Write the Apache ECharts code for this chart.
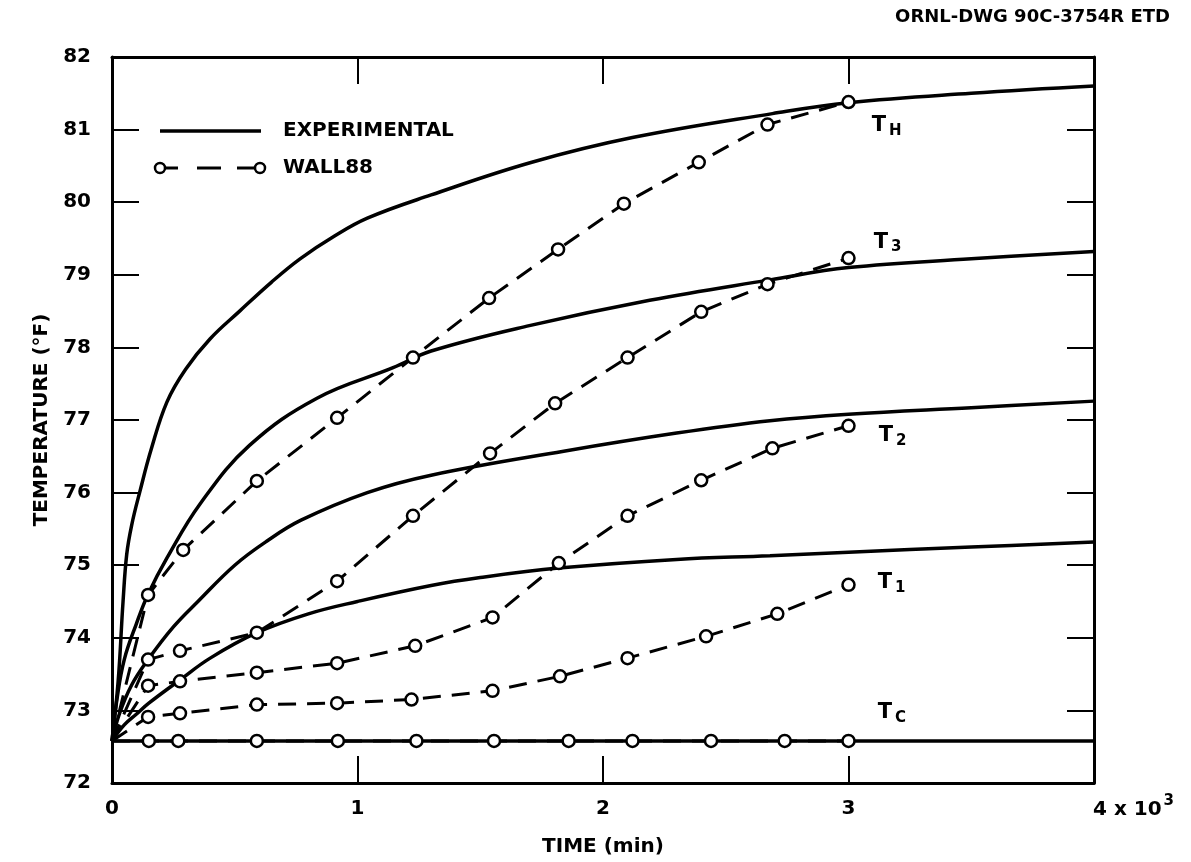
<!DOCTYPE html>
<html>
<head>
<meta charset="utf-8">
<script src="https://cdn.jsdelivr.net/npm/echarts@6.0.0/dist/echarts.min.js"></script>
<style>
  html, body { margin: 0; padding: 0; background: #fff; }
  #chart { width: 1191px; height: 862px; }
</style>
</head>
<body>
<div id="chart"></div>
<script>
// Axis ticks
const timeTicks = [0, 1, 2, 3, 4];          // x 10^3 min
const tempTicks = [72, 73, 74, 75, 76, 77, 78, 79, 80, 81, 82];

// Common starting temperature of every curve (°F)
const startTemp = 72.58;

// Measured (experimental) temperature histories, [time (10^3 min), °F]
const expTH = [[0, 72.58], [0.025, 73.4], [0.045, 74.5], [0.06, 75.15], [0.08, 75.55], [0.114, 76.02],
  [0.16, 76.6], [0.224, 77.25], [0.3, 77.7], [0.4, 78.12], [0.52, 78.5], [0.65, 78.9], [0.766, 79.22],
  [0.9, 79.52], [1.04, 79.78], [1.3, 80.1], [1.71, 80.55], [2.12, 80.89], [2.69, 81.22], [3.0, 81.37],
  [3.5, 81.5], [4.0, 81.6]];
const expT3 = [[0, 72.58], [0.02, 73.15], [0.05, 73.7], [0.1, 74.2], [0.147, 74.6], [0.224, 75.1],
  [0.36, 75.85], [0.56, 76.65], [0.835, 77.3], [1.145, 77.72], [1.3, 77.95], [1.7, 78.3], [2.19, 78.65],
  [2.68, 78.93], [3.0, 79.1], [3.5, 79.22], [4.0, 79.32]];
const expT2 = [[0, 72.58], [0.03, 72.95], [0.08, 73.35], [0.147, 73.7], [0.25, 74.15], [0.35, 74.5],
  [0.5, 75.0], [0.63, 75.33], [0.77, 75.62], [1.04, 76.0], [1.3, 76.24], [1.84, 76.57], [2.3, 76.82],
  [2.68, 76.99], [3.0, 77.08], [3.5, 77.17], [4.0, 77.26]];
const expT1 = [[0, 72.58], [0.05, 72.8], [0.1, 72.95], [0.15, 73.1], [0.277, 73.42], [0.4, 73.72],
  [0.59, 74.07], [0.8, 74.33], [1.0, 74.5], [1.3, 74.72], [1.5, 74.83], [1.82, 74.96], [2.3, 75.08],
  [2.68, 75.13], [3.0, 75.18], [3.5, 75.25], [4.0, 75.32]];
const expTC = [[0, 72.58], [4.0, 72.58]];

// WALL88 predictions: output times (10^3 min) and temperatures (°F)
const wallTimeTH = [0.147, 0.29, 0.59, 0.917, 1.226, 1.536, 1.817, 2.085, 2.39, 2.67, 3.0];
const wallTH     = [74.59, 75.21, 76.16, 77.03, 77.86, 78.68, 79.35, 79.98, 80.55, 81.07, 81.38];
const wallTimeT3 = [0.147, 0.277, 0.59, 0.917, 1.226, 1.54, 1.805, 2.10, 2.40, 2.67, 3.0];
const wallT3     = [73.70, 73.82, 74.07, 74.78, 75.68, 76.54, 77.23, 77.86, 78.49, 78.87, 79.23];
const wallTimeT2 = [0.147, 0.277, 0.59, 0.917, 1.235, 1.55, 1.82, 2.10, 2.40, 2.69, 3.0];
const wallT2     = [73.34, 73.40, 73.52, 73.65, 73.89, 74.28, 75.03, 75.68, 76.17, 76.61, 76.92];
const wallTimeT1 = [0.147, 0.277, 0.59, 0.917, 1.22, 1.55, 1.825, 2.10, 2.42, 2.71, 3.0];
const wallT1     = [72.91, 72.96, 73.08, 73.10, 73.15, 73.27, 73.47, 73.72, 74.02, 74.33, 74.73];
const wallTimeTC = [0.15, 0.27, 0.59, 0.92, 1.24, 1.556, 1.86, 2.12, 2.44, 2.74, 3.0];
const wallTC     = [72.58, 72.58, 72.58, 72.58, 72.58, 72.58, 72.58, 72.58, 72.58, 72.58, 72.58];

// Curve subscripts (T_H, T_3, ...)
const curveSubs = ['H', '3', '2', '1', 'C'];

const INK = '#000';
const FONT = '"DejaVu Sans", "Liberation Sans", sans-serif';

const chart = echarts.init(document.getElementById('chart'), null, { renderer: 'canvas' });

const textBold = { fontFamily: FONT, fontWeight: 'bold', color: INK };

function axisCommon(extra) {
  return Object.assign({
    type: 'value',
    axisLine: { show: true, onZero: false, lineStyle: { color: INK, width: 3 } },
    axisTick: { show: true, inside: true, length: 27, lineStyle: { color: INK, width: 2 } },
    splitLine: { show: false }
  }, extra);
}

// Placement of each curve name beside the last WALL88 point
const subLabelOffsets = [[11, 25], [13, -15], [18, 11], [17, -1], [17, -27]];

const expSets = [expTH, expT3, expT2, expT1, expTC];
const wallSets = [[wallTimeTH, wallTH], [wallTimeT3, wallT3], [wallTimeT2, wallT2],
                  [wallTimeT1, wallT1], [wallTimeTC, wallTC]];

const series = [];
expSets.forEach(function (d) {
  series.push({
    type: 'line', data: d, showSymbol: false, smooth: 0.4,
    lineStyle: { color: INK, width: 3.5 }, z: 2, silent: true
  });
});
wallSets.forEach(function (pair, i) {
  const times = pair[0], temps = pair[1];
  const data = [{ value: [0, startTemp], symbol: 'none' }];
  times.forEach(function (t, k) {
    const item = { value: [t, temps[k]] };
    if (k === times.length - 1) {
      item.label = {
        show: true, position: 'right', distance: 5, offset: subLabelOffsets[i],
        formatter: '{t|T}{s|' + curveSubs[i] + '}',
        rich: {
          t: Object.assign({ fontSize: 21, verticalAlign: 'top' }, textBold),
          s: Object.assign({ fontSize: 15, verticalAlign: 'top', padding: [8, 0, 0, 3] }, textBold)
        }
      };
    }
    data.push(item);
  });
  series.push({
    type: 'line', data: data, smooth: false,
    symbol: 'circle', symbolSize: 12, showAllSymbol: true,
    itemStyle: { color: '#fff', borderColor: INK, borderWidth: 2.5 },
    lineStyle: { color: INK, width: 3, type: [18, 11] },
    z: 3, silent: true
  });
});

// Legend drawn as plain graphics in the upper-left of the plot
const legendY1 = 131, legendY2 = 168;
const legendGraphics = [
  { type: 'line', shape: { x1: 160, y1: legendY1, x2: 261, y2: legendY1 },
    style: { stroke: INK, lineWidth: 3.5 }, z: 10 },
  { type: 'text', x: 283, y: legendY1,
    style: { text: 'EXPERIMENTAL', fontSize: 20, fill: INK, verticalAlign: 'middle',
      fontFamily: FONT, fontWeight: 'bold' }, z: 10 },
  { type: 'line', shape: { x1: 163, y1: legendY2, x2: 178, y2: legendY2 },
    style: { stroke: INK, lineWidth: 3 }, z: 10 },
  { type: 'line', shape: { x1: 197, y1: legendY2, x2: 221, y2: legendY2 },
    style: { stroke: INK, lineWidth: 3 }, z: 10 },
  { type: 'line', shape: { x1: 237, y1: legendY2, x2: 256, y2: legendY2 },
    style: { stroke: INK, lineWidth: 3 }, z: 10 },
  { type: 'circle', shape: { cx: 160, cy: legendY2, r: 5 },
    style: { fill: '#fff', stroke: INK, lineWidth: 2.5 }, z: 11 },
  { type: 'circle', shape: { cx: 260, cy: legendY2, r: 5 },
    style: { fill: '#fff', stroke: INK, lineWidth: 2.5 }, z: 11 },
  { type: 'text', x: 283, y: legendY2,
    style: { text: 'WALL88', fontSize: 20, fill: INK, verticalAlign: 'middle',
      fontFamily: FONT, fontWeight: 'bold' }, z: 10 }
];

const option = {
  animation: false,
  backgroundColor: '#fff',
  title: {
    text: 'ORNL-DWG 90C-3754R ETD', right: 16, top: 3,
    textStyle: { fontFamily: FONT, fontWeight: 'bold', fontSize: 18, color: INK }
  },
  grid: { left: 112, right: 97, top: 57, bottom: 76 },
  xAxis: [
    axisCommon({
      min: timeTicks[0], max: timeTicks[timeTicks.length - 1], interval: 1, position: 'bottom',
      axisLabel: Object.assign({ fontSize: 20, margin: 16,
        formatter: function (v) { return v === timeTicks[timeTicks.length - 1] ? '' : String(v); } }, textBold),
      name: 'TIME (min)', nameLocation: 'middle', nameGap: 54,
      nameTextStyle: Object.assign({ fontSize: 20 }, textBold)
    }),
    axisCommon({
      min: timeTicks[0], max: timeTicks[timeTicks.length - 1], interval: 1, position: 'top',
      axisLabel: { show: false }
    })
  ],
  yAxis: [
    axisCommon({
      min: tempTicks[0], max: tempTicks[tempTicks.length - 1], interval: 1, position: 'left',
      axisLabel: Object.assign({ fontSize: 20, margin: 21 }, textBold),
      name: 'TEMPERATURE (°F)', nameLocation: 'middle', nameGap: 55,
      nameTextStyle: Object.assign({ fontSize: 20 }, textBold)
    }),
    axisCommon({
      min: tempTicks[0], max: tempTicks[tempTicks.length - 1], interval: 1, position: 'right',
      axisLabel: { show: false }
    })
  ],
  series: series,
  graphic: legendGraphics
};

chart.setOption(option);

// Last time tick carries the scale factor "x 10^3", set just right of its tick
const lastTick = timeTicks[timeTicks.length - 1];
const p = chart.convertToPixel({ xAxisIndex: 0, yAxisIndex: 0 }, [lastTick, tempTicks[0]]);
chart.setOption({
  graphic: legendGraphics.concat([{
    type: 'text', x: p[0] - 1, y: p[1] + 24,
    style: {
      text: '{a|' + lastTick + ' x 10}{b|3}',
      verticalAlign: 'middle',
      rich: {
        a: { fontFamily: FONT, fontWeight: 'bold', fontSize: 20, fill: INK, verticalAlign: 'top', padding: [6, 0, 0, 0] },
        b: { fontFamily: FONT, fontWeight: 'bold', fontSize: 15, fill: INK, verticalAlign: 'top', padding: [0, 0, 0, 2] }
      }
    },
    z: 10
  }])
});
</script>
</body>
</html>
